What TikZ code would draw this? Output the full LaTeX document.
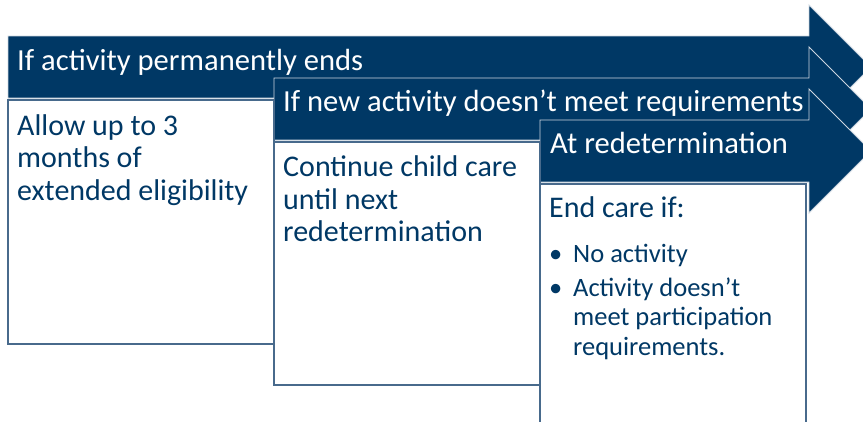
\documentclass[tikz,border=0pt]{standalone}
\usepackage{fontspec}
\setmainfont{Carlito}
\usepackage{tikz}
\usetikzlibrary{positioning}
\definecolor{navy}{RGB}{0,56,101}
\definecolor{edge}{RGB}{72,106,140}
\definecolor{rim}{RGB}{205,214,224}
\tikzset{banner/.style={fill=navy, draw=rim, line width=0.9pt, line join=miter}}
\tikzset{panel/.style={fill=white, draw=edge, line width=1.1pt}}
\tikzset{headtext/.style={anchor=base west, inner sep=0pt, text=white, font=\fontsize{30.6}{33}\selectfont}}
\tikzset{bodytext/.style={anchor=base west, inner sep=0pt, text=navy, text width=245pt, align=flush left, font=\fontsize{30}{32.5}\selectfont}}

\begin{document}
\begin{tikzpicture}[x=1pt, y=-1pt]
		\clip (0,0) rectangle (863,421);

		% the three banners
		\draw[banner] (8,36) -- (809,36) -- (809,5) -- (871,67) -- (809,129) -- (809,98) -- (8,98) -- cycle;
		\draw[banner] (274,78) -- (809,78) -- (809,47) -- (871,109) -- (809,171) -- (809,140) -- (274,140) -- cycle;
		\draw[banner] (540,120) -- (809,120) -- (809,89) -- (871,151) -- (809,213) -- (809,182) -- (540,182) -- cycle;

		% the panels below them
		\draw[panel] (8,100) rectangle (274,344);
		\draw[panel] (274,142) rectangle (540,385);
		\draw[panel] (540,184) rectangle (806,440);

		\node[headtext] (ends) at (17,70.5) {If activity permanently ends};
		\node[headtext] (newact) at (283,111.5) {If new activity doesn’t meet requirements};
		\node[headtext] (redet) at (550,153) {At redetermination};

		\node[bodytext] (allow) at (17,135) {Allow up to 3\\months of\\extended eligibility};
		\node[bodytext] (cont) at (283,176.5) {Continue child care\\until next\\redetermination};
		\node[bodytext] (endcare) at (549,217) {End care if:};

		\node[anchor=base west, inner sep=0pt, text=navy, font=\fontsize{26.5}{29.5}\selectfont] (reasons) at (549,262)
			{\begin{tabular}[t]{@{}p{24pt}@{}l@{}}
				• & No activity\\[4.5pt]
				• & Activity doesn’t\\
				  & meet participation\\
				  & requirements.
			\end{tabular}};
	\end{tikzpicture}
\end{document}
